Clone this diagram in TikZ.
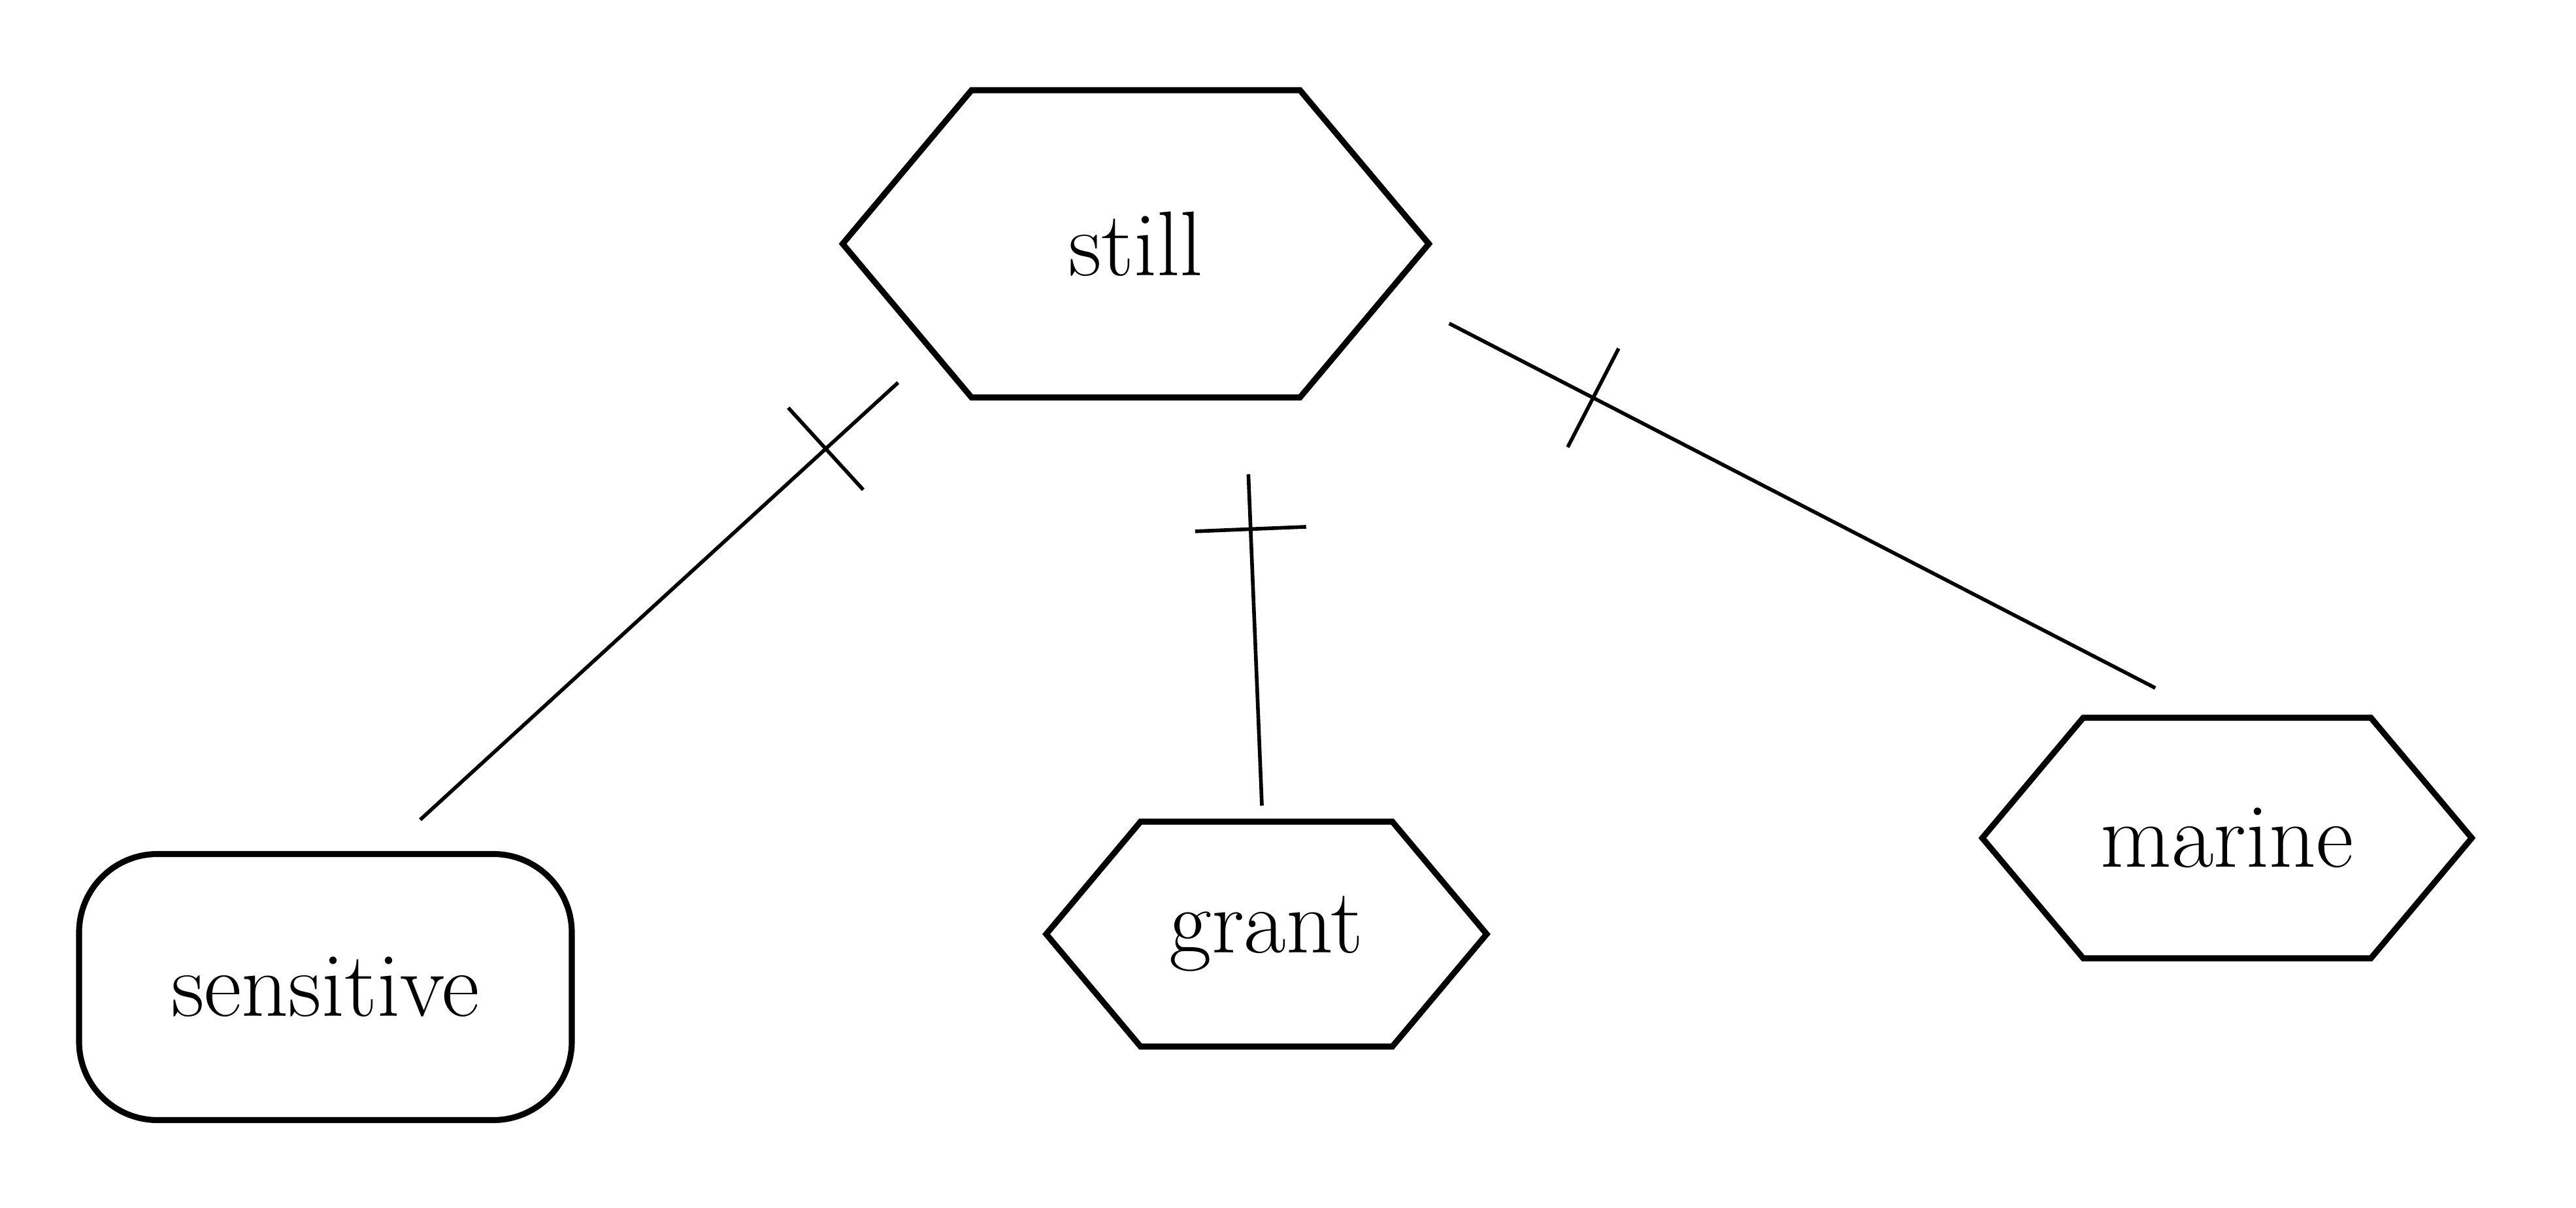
\documentclass[tikz,border=0pt]{standalone}
\usepackage{tikz}
\usetikzlibrary{shapes.symbols, decorations.markings}

\begin{document}
\begin{tikzpicture}[
    every node/.style={font=\fontsize{40}{46}\selectfont},
    entity/.style={signal, signal to=east and west, signal pointer angle=100, draw, line width=2.6pt, inner sep=0pt},
    roundbox/.style={rectangle, draw, line width=2.6pt, rounded corners=1.2cm, minimum width=7.54cm, minimum height=4.07cm},
    link/.style={line width=1.6pt},
    onebar/.style={postaction={decorate, decoration={markings, mark=at position #1 with {\draw[line width=1.6pt, shorten <=0pt, shorten >=0pt] (0,-0.85) -- (0,0.85);}}}}
]
\useasboundingbox (0,0) rectangle (39.42,-18.48);

% Top entity
\node[entity, minimum width=8.97cm, minimum height=4.70cm] (still) at (17.38,-3.73) {still};

% Lower row
\node[roundbox] (sensitive) at (4.98,-15.10) {sensitive};
\node[entity, minimum width=6.74cm, minimum height=3.44cm] (grant) at (19.38,-14.29) {grant};
\node[entity, minimum width=7.49cm, minimum height=3.68cm] (marine) at (34.08,-12.82) {marine};

% Links with one-bar marks
\draw[link, shorten <=0.67cm, shorten >=0.71cm, onebar=2.17cm] (still.208) -- (sensitive.66);
\draw[link, shorten <=1.13cm, shorten >=0.2cm, onebar=1.97cm] (still.-55) -- (grant.92);
\draw[link, shorten <=1.0cm, shorten >=0.9cm, onebar=3.48cm] (still.-11) -- (marine.99);

\end{tikzpicture}
\end{document}
